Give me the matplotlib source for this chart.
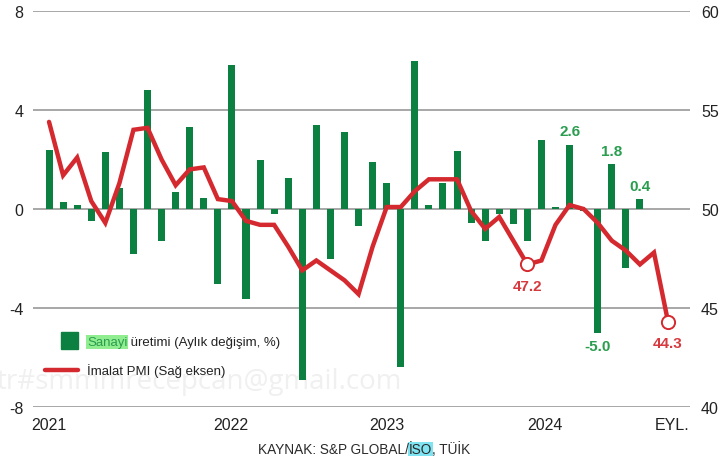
import numpy as np
import matplotlib
matplotlib.use("Agg")
import matplotlib.pyplot as plt
from matplotlib.patches import Rectangle
from matplotlib.lines import Line2D

plt.rcParams['font.family'] = ['Liberation Sans', 'DejaVu Sans']

# Sanayi üretimi, aylık değişim (%) - Oca 2021 .. Tem 2024
sanayi = [2.4, 0.3, 0.15, -0.5, 2.3, 0.85, -1.8, 4.8, -1.3, 0.7, 3.3, 0.45,
          -3.05, 5.8, -3.65, 2.0, -0.2, 1.25, -6.9, 3.4, -2.0, 3.1, -0.7, 1.9,
          1.05, -6.4, 6.0, 0.15, 1.05, 2.35, -0.55, -1.3, -0.2, -0.6, -1.3, 2.8,
          0.1, 2.6, -0.1, -5.0, 1.8, -2.4, 0.4]

# İmalat PMI - Oca 2021 .. Eyl 2024
pmi = [54.4, 51.7, 52.6, 50.4, 49.3, 51.3, 54.0, 54.1, 52.5, 51.2, 52.0, 52.1,
       50.5, 50.4, 49.4, 49.2, 49.2, 48.1, 46.9, 47.4, 46.9, 46.4, 45.7, 48.1,
       50.1, 50.1, 50.9, 51.5, 51.5, 51.5, 49.9, 49.0, 49.6, 48.4, 47.2, 47.4,
       49.2, 50.2, 50.0, 49.3, 48.4, 47.9, 47.2, 47.8, 44.3]

# x ekseni etiketleri (ay sırası)
xtick_pos = [0, 12.95, 24.0, 35.25, 44.3]
xtick_labels = ['2021', '2022', '2023', '2024', 'EYL.']

# işaretlenen değerler (ay sırası)
bar_labels = [37, 40, 42, 39]
pmi_labels = [34, 44]

GREEN = '#0b8040'
GREEN_TXT = '#2a9d4f'
RED = '#d42a2f'
RED_TXT = '#d63a3f'
GRID = '#8f8f8f'

fig = plt.figure(figsize=(7.28, 4.64), dpi=100)
ax = fig.add_axes([33 / 728, 1 - 408 / 464, (690 - 33) / 728, (408 - 12) / 464])
ax2 = ax.twinx()

x_bar = np.arange(len(sanayi))
x_pmi = np.arange(len(pmi))

ax.bar(x_bar, sanayi, width=0.5, color=GREEN, zorder=2)
ax.set_ylim(-8, 8)
ax.set_yticks([-8, -4, 0, 4, 8])
ax.set_yticklabels(['-8', '-4', '0', '4', '8'])
ax.set_xlim(-1.14, 45.56)
ax.grid(axis='y', color=GRID, lw=1.1, zorder=0)
ax.set_axisbelow(True)

ax2.plot(x_pmi, pmi, color=RED, lw=3.2, solid_joinstyle='miter', solid_capstyle='round', zorder=3)
ax2.plot([x_pmi[i] for i in pmi_labels], [pmi[i] for i in pmi_labels], 'o',
         ms=9.5, mfc='white', mec=RED, mew=1.4, zorder=4)
ax2.set_ylim(40, 60)
ax2.set_yticks([40, 45, 50, 55, 60])

for a in (ax, ax2):
    for s in a.spines.values():
        s.set_visible(False)
    a.patch.set_alpha(0)
    a.tick_params(length=0, labelsize=11.5, colors='#222222')
ax.tick_params(axis='y', pad=7)
ax2.tick_params(axis='y', pad=8)

ax.set_xticks(xtick_pos)
ax.set_xticklabels(xtick_labels)
ax.tick_params(axis='x', pad=7)

for i in bar_labels:
    v = sanayi[i]
    off = 9.5 if v > 0 else -9.5
    ax.annotate(f'{v:.1f}', (x_bar[i], v), xytext=(0, off), textcoords='offset points',
                ha='center', va='center', fontsize=11, fontweight='bold', color=GREEN_TXT)

for i in pmi_labels:
    ax2.annotate(f'{pmi[i]:.1f}', (x_pmi[i], pmi[i]), xytext=(0, -15.5), textcoords='offset points',
                 ha='center', va='center', fontsize=11, fontweight='bold', color=RED_TXT)

# filigran
ax.text(-0.005, 1 - 382 / 464, 'tr#smmmrecepcan@gmail.com', transform=fig.transFigure,
        fontsize=20, color='#f0f0f0', va='center', ha='left', zorder=0.5, clip_on=False,
        family=['Open Sans', 'DejaVu Sans'])

# lejant
fig.patches.append(Rectangle((61 / 728, 1 - 350 / 464), 17 / 728, 17 / 464,
                             transform=fig.transFigure, color=GREEN))
fig.lines.append(Line2D([45 / 728, 78 / 728], [1 - 371 / 464] * 2,
                        transform=fig.transFigure, color=RED, lw=3.2, solid_capstyle='round'))
t1 = fig.text(87 / 728, 1 - 343 / 464, 'Sanayi', fontsize=9.5, color='#2a9d4f', va='center',
              bbox=dict(facecolor='#90ee90', edgecolor='none', pad=0.6))
ax.annotate(' üretimi (Aylık değişim, %)', xy=(1, 0), xycoords=t1, fontsize=9.5,
            color='#222222', va='bottom', ha='left', annotation_clip=False)
fig.text(87 / 728, 1 - 371 / 464, 'İmalat PMI (Sağ eksen)', fontsize=9.5, color='#222222', va='center')

# kaynak
s1 = fig.text(258 / 728, 1 - 450 / 464, 'KAYNAK: S&P GLOBAL/', fontsize=9.8, color='#2a2a2a', va='center')
s2 = ax.annotate('İSO', xy=(1, 0), xycoords=s1, fontsize=9.8, color='#2a2a2a', va='bottom', ha='left',
                 bbox=dict(facecolor='#7fe3f2', edgecolor='none', pad=0.3), annotation_clip=False)
ax.annotate(', TÜİK', xy=(1, 0), xycoords=s2, fontsize=9.8, color='#2a2a2a', va='bottom', ha='left',
            annotation_clip=False)

fig.savefig('out.png', dpi=100, facecolor='white')
